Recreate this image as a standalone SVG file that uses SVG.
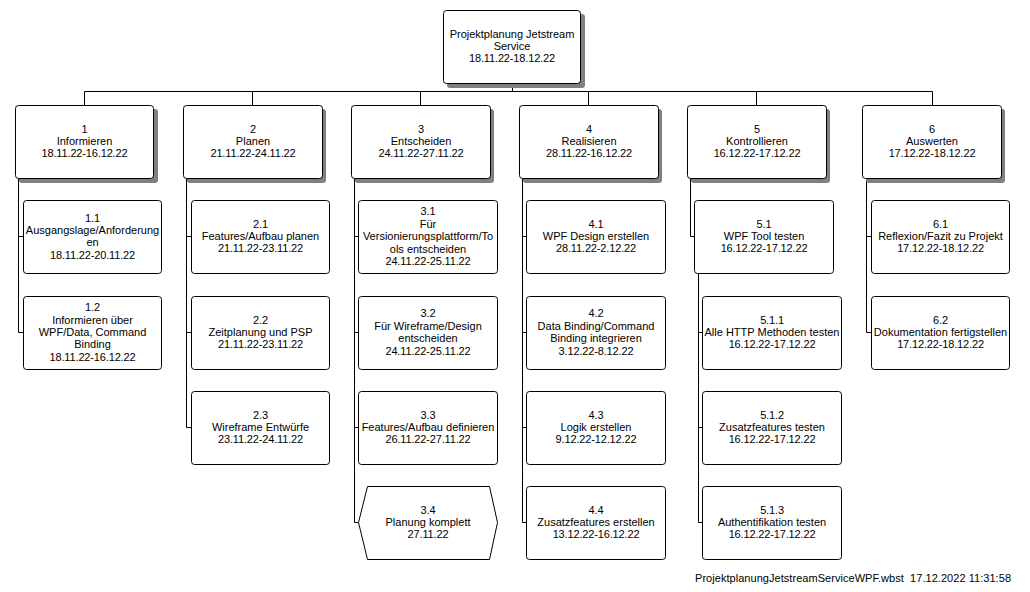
<svg xmlns="http://www.w3.org/2000/svg" width="1030" height="592" viewBox="0 0 1030 592">
<style>
.b{fill:#fff;stroke:#000;stroke-width:1}
.s{fill:#808080;stroke:none}
.c{fill:none;stroke:#000;stroke-width:1}
text{font-family:"Liberation Sans",Arial,sans-serif;font-size:11px;fill:#000;text-anchor:middle}
.d{letter-spacing:-0.15px}
.f{text-anchor:start}
</style>
<rect width="1030" height="592" fill="#fff"/>
<g id="connectors">
<path class="c" d="M512.5 83V91.5M84.5 91.5H932.5M84.5 91.5V105M252.5 91.5V105M420.5 91.5V105M588.5 91.5V105M756.5 91.5V105M932.5 91.5V105"/>
<path class="c" d="M18.5 178V332.5M18.5 236.5H23M18.5 332.5H23"/>
<path class="c" d="M186.5 178V427.5M186.5 236.5H191M186.5 332.5H191M186.5 427.5H191"/>
<path class="c" d="M354.5 178V522.5M354.5 236.5H358M354.5 332.5H358M354.5 427.5H358M354.5 522.5H358"/>
<path class="c" d="M522.5 178V522.5M522.5 236.5H526M522.5 332.5H526M522.5 427.5H526M522.5 522.5H526"/>
<path class="c" d="M690.5 178V236.5H694M698.5 273V522.5M698.5 332.5H702M698.5 427.5H702M698.5 522.5H702"/>
<path class="c" d="M866.5 178V332.5M866.5 236.5H871M866.5 332.5H871"/>
</g>
<g id="n0"><rect class="s" x="447" y="14" width="138" height="74" rx="3"/><rect class="b" x="443.5" y="10.5" width="137" height="73" rx="3"/>
<text x="512" y="37.6">Projektplanung Jetstream</text><text x="512" y="50">Service</text><text class="d" x="512" y="62.4">18.11.22-18.12.22</text></g>
<g id="n1"><rect class="s" x="19" y="109" width="139" height="74" rx="3"/><rect class="b" x="15.5" y="105.5" width="138" height="73" rx="3"/>
<text class="d" x="84.5" y="132.6">1</text><text x="84.5" y="145">Informieren</text><text class="d" x="84.5" y="157.4">18.11.22-16.12.22</text></g>
<g id="n2"><rect class="s" x="187" y="109" width="139" height="74" rx="3"/><rect class="b" x="183.5" y="105.5" width="139" height="73" rx="3"/>
<text class="d" x="253" y="132.6">2</text><text x="253" y="145">Planen</text><text class="d" x="253" y="157.4">21.11.22-24.11.22</text></g>
<g id="n3"><rect class="s" x="355" y="109" width="139" height="74" rx="3"/><rect class="b" x="351.5" y="105.5" width="139" height="73" rx="3"/>
<text class="d" x="421" y="132.6">3</text><text x="421" y="145">Entscheiden</text><text class="d" x="421" y="157.4">24.11.22-27.11.22</text></g>
<g id="n4"><rect class="s" x="523" y="109" width="139" height="74" rx="3"/><rect class="b" x="519.5" y="105.5" width="139" height="73" rx="3"/>
<text class="d" x="589" y="132.6">4</text><text x="589" y="145">Realisieren</text><text class="d" x="589" y="157.4">28.11.22-16.12.22</text></g>
<g id="n5"><rect class="s" x="691" y="109" width="139" height="74" rx="3"/><rect class="b" x="687.5" y="105.5" width="139" height="73" rx="3"/>
<text class="d" x="757" y="132.6">5</text><text x="757" y="145">Kontrollieren</text><text class="d" x="757" y="157.4">16.12.22-17.12.22</text></g>
<g id="n6"><rect class="s" x="866" y="109" width="139" height="74" rx="3"/><rect class="b" x="862.5" y="105.5" width="139" height="73" rx="3"/>
<text class="d" x="932" y="132.6">6</text><text x="932" y="145">Auswerten</text><text class="d" x="932" y="157.4">17.12.22-18.12.22</text></g>
<g id="n1_1"><rect class="b" x="23.5" y="200.5" width="138" height="73" rx="3"/>
<text class="d" x="92.5" y="221.5">1.1</text><text x="92.5" y="233.9">Ausgangslage/Anforderung</text><text x="92.5" y="246.3">en</text><text class="d" x="92.5" y="258.7">18.11.22-20.11.22</text></g>
<g id="n1_2"><rect class="b" x="23.5" y="296.5" width="138" height="73" rx="3"/>
<text class="d" x="92.5" y="311.2">1.2</text><text x="92.5" y="323.6">Informieren über</text><text x="92.5" y="336">WPF/Data, Command</text><text x="92.5" y="348.4">Binding</text><text class="d" x="92.5" y="360.8">18.11.22-16.12.22</text></g>
<g id="n2_1"><rect class="b" x="191.5" y="200.5" width="138" height="73" rx="3"/>
<text class="d" x="260.5" y="227.7">2.1</text><text x="260.5" y="240">Features/Aufbau planen</text><text class="d" x="260.5" y="252.4">21.11.22-23.11.22</text></g>
<g id="n2_2"><rect class="b" x="191.5" y="296.5" width="138" height="73" rx="3"/>
<text class="d" x="260.5" y="323.6">2.2</text><text x="260.5" y="336">Zeitplanung und PSP</text><text class="d" x="260.5" y="348.4">21.11.22-23.11.22</text></g>
<g id="n2_3"><rect class="b" x="191.5" y="391.5" width="138" height="73" rx="3"/>
<text class="d" x="260.5" y="418.6">2.3</text><text x="260.5" y="431">Wireframe Entwürfe</text><text class="d" x="260.5" y="443.4">23.11.22-24.11.22</text></g>
<g id="n3_1"><rect class="b" x="358.5" y="200.5" width="139" height="73" rx="3"/>
<text class="d" x="428" y="215.3">3.1</text><text x="428" y="227.7">Für</text><text x="428" y="240.1">Versionierungsplattform/To</text><text x="428" y="252.5">ols entscheiden</text><text class="d" x="428" y="264.9">24.11.22-25.11.22</text></g>
<g id="n3_2"><rect class="b" x="358.5" y="296.5" width="139" height="73" rx="3"/>
<text class="d" x="428" y="317.4">3.2</text><text x="428" y="329.8">Für Wireframe/Design</text><text x="428" y="342.2">entscheiden</text><text class="d" x="428" y="354.6">24.11.22-25.11.22</text></g>
<g id="n3_3"><rect class="b" x="358.5" y="391.5" width="139" height="73" rx="3"/>
<text class="d" x="428" y="418.6">3.3</text><text x="428" y="431">Features/Aufbau definieren</text><text class="d" x="428" y="443.4">26.11.22-27.11.22</text></g>
<g id="n3_4"><polygon class="b" points="358.5,522.5 367.5,486.5 489.5,486.5 497.5,522.5 489.5,559.5 367.5,559.5"/>
<text class="d" x="428" y="513.6">3.4</text><text x="428" y="526">Planung komplett</text><text class="d" x="428" y="538.4">27.11.22</text></g>
<g id="n4_1"><rect class="b" x="526.5" y="200.5" width="139" height="73" rx="3"/>
<text class="d" x="596" y="227.7">4.1</text><text x="596" y="240">WPF Design erstellen</text><text class="d" x="596" y="252.4">28.11.22-2.12.22</text></g>
<g id="n4_2"><rect class="b" x="526.5" y="296.5" width="139" height="73" rx="3"/>
<text class="d" x="596" y="317.4">4.2</text><text x="596" y="329.8">Data Binding/Command</text><text x="596" y="342.2">Binding integrieren</text><text class="d" x="596" y="354.6">3.12.22-8.12.22</text></g>
<g id="n4_3"><rect class="b" x="526.5" y="391.5" width="139" height="73" rx="3"/>
<text class="d" x="596" y="418.6">4.3</text><text x="596" y="431">Logik erstellen</text><text class="d" x="596" y="443.4">9.12.22-12.12.22</text></g>
<g id="n4_4"><rect class="b" x="526.5" y="486.5" width="139" height="73" rx="3"/>
<text class="d" x="596" y="513.6">4.4</text><text x="596" y="526">Zusatzfeatures erstellen</text><text class="d" x="596" y="538.4">13.12.22-16.12.22</text></g>
<g id="n5_1"><rect class="b" x="694.5" y="200.5" width="139" height="73" rx="3"/>
<text class="d" x="764" y="227.7">5.1</text><text x="764" y="240">WPF Tool testen</text><text class="d" x="764" y="252.4">16.12.22-17.12.22</text></g>
<g id="n5_1_1"><rect class="b" x="702.5" y="296.5" width="139" height="73" rx="3"/>
<text class="d" x="772" y="323.6">5.1.1</text><text x="772" y="336">Alle HTTP Methoden testen</text><text class="d" x="772" y="348.4">16.12.22-17.12.22</text></g>
<g id="n5_1_2"><rect class="b" x="702.5" y="391.5" width="139" height="73" rx="3"/>
<text class="d" x="772" y="418.6">5.1.2</text><text x="772" y="431">Zusatzfeatures testen</text><text class="d" x="772" y="443.4">16.12.22-17.12.22</text></g>
<g id="n5_1_3"><rect class="b" x="702.5" y="486.5" width="139" height="73" rx="3"/>
<text class="d" x="772" y="513.6">5.1.3</text><text x="772" y="526">Authentifikation testen</text><text class="d" x="772" y="538.4">16.12.22-17.12.22</text></g>
<g id="n6_1"><rect class="b" x="871.5" y="200.5" width="138" height="73" rx="3"/>
<text class="d" x="940.5" y="227.7">6.1</text><text x="940.5" y="240">Reflexion/Fazit zu Projekt</text><text class="d" x="940.5" y="252.4">17.12.22-18.12.22</text></g>
<g id="n6_2"><rect class="b" x="871.5" y="296.5" width="138" height="73" rx="3"/>
<text class="d" x="940.5" y="323.6">6.2</text><text x="940.5" y="336">Dokumentation fertigstellen</text><text class="d" x="940.5" y="348.4">17.12.22-18.12.22</text></g>
<text class="f" x="695" y="582" xml:space="preserve" textLength="316" lengthAdjust="spacing">ProjektplanungJetstreamServiceWPF.wbst  17.12.2022 11:31:58</text>
</svg>
